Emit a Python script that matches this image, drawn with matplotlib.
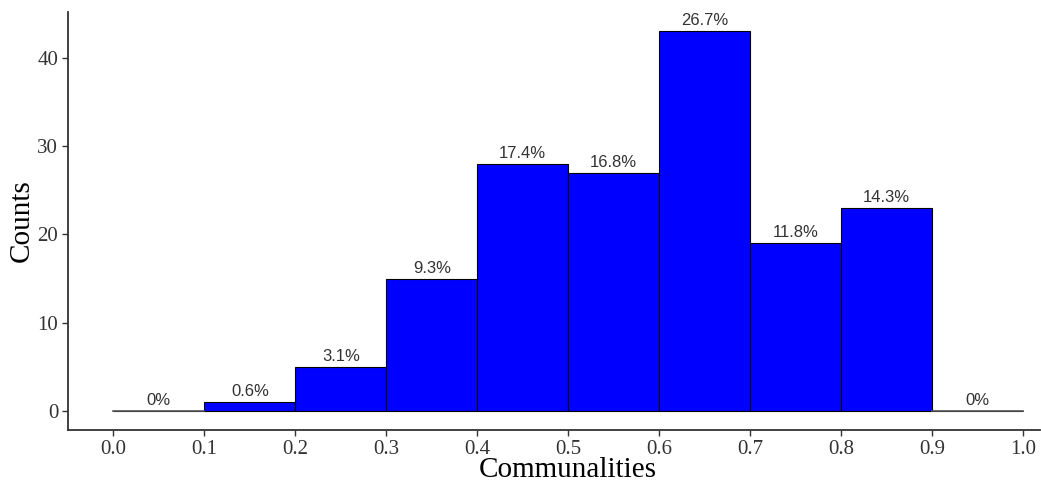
import numpy as np
import matplotlib
matplotlib.use('Agg')
import matplotlib.pyplot as plt

# histogram of communalities, bins of width 0.1
bin_edges = [0.0, 0.1, 0.2, 0.3, 0.4, 0.5, 0.6, 0.7, 0.8, 0.9, 1.0]
counts = [0, 1, 5, 15, 28, 27, 43, 19, 23, 0]
pct_labels = ['0%', '0.6%', '3.1%', '9.3%', '17.4%', '16.8%', '26.7%',
              '11.8%', '14.3%', '0%']
x_ticks = [0.0, 0.1, 0.2, 0.3, 0.4, 0.5, 0.6, 0.7, 0.8, 0.9, 1.0]
y_ticks = [0, 10, 20, 30, 40]

serif = ['Liberation Serif', 'DejaVu Serif']
sans = ['Liberation Sans', 'DejaVu Sans']

fig = plt.figure(figsize=(10.41, 4.87), dpi=100)
ax = fig.add_axes([0.0653, 0.117, 0.934, 0.858])

lefts = np.array(bin_edges[:-1])
widths = np.diff(bin_edges)
ax.bar(lefts, counts, width=widths, align='edge', color='#0000ff',
       edgecolor='black', linewidth=0.8)
# zero-height bins show as a flat grey line
for left, w, c in zip(lefts, widths, counts):
    if c == 0:
        ax.plot([left, left + w], [0, 0], color='#555555', lw=1.2)

for left, w, c, lab in zip(lefts, widths, counts, pct_labels):
    ax.annotate(lab, (left + w / 2, c), xytext=(0, 2),
                textcoords='offset points', ha='center', va='bottom',
                fontsize=12, color='#333333', family=sans)

xmin, xmax = -0.05, 1.019
ax.set_xlim(xmin, xmax)
ax.set_ylim(-0.05 * 43, 43 * 1.05)
ax.set_xticks(x_ticks)
ax.set_xticklabels(['%.1f' % t for t in x_ticks])
ax.set_yticks(y_ticks)

for lab in ax.get_xticklabels() + ax.get_yticklabels():
    lab.set_family(serif)
    lab.set_fontsize(15)
    lab.set_color('#333333')
ax.tick_params(length=4, width=1, color='#333333', pad=3)

ax.set_xlabel('Communalities', fontsize=21, family=serif, labelpad=-1)
ax.set_ylabel('Counts', fontsize=21, family=serif, labelpad=2)
# the original panel ran to 1.05, so its title sits at x = 0.5
ax.xaxis.label.set_x((0.5 - xmin) / (xmax - xmin))

for side in ['top', 'right']:
    ax.spines[side].set_visible(False)
for side in ['left', 'bottom']:
    ax.spines[side].set_color('#333333')
    ax.spines[side].set_linewidth(1.3)

plt.savefig('out.png', dpi=100)
